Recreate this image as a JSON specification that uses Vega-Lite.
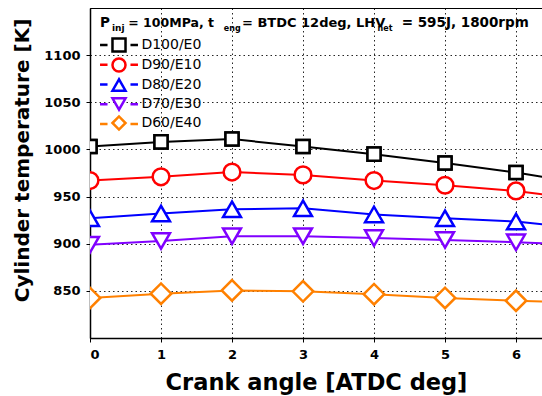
{
  "$schema": "https://vega.github.io/schema/vega-lite/v6.json",
  "width": 452,
  "height": 330,
  "autosize": {"type": "none"},
  "padding": {"left": 90, "top": 8, "right": 0, "bottom": 58},
  "background": "white",
  "config": {
    "font": "DejaVu Sans",
    "view": {"stroke": "#000", "strokeWidth": 1},
    "axis": {
      "labelFont": "DejaVu Sans", "labelFontWeight": "bold", "labelFontSize": 13, "labelColor": "#000",
      "titleFont": "DejaVu Sans", "titleFontWeight": "bold", "titleColor": "#000",
      "domainColor": "#000", "domainWidth": 1.5, "tickColor": "#000", "tickSize": 4, "tickWidth": 1,
      "gridColor": "#000", "gridDash": [1.5, 3], "gridWidth": 1, "gridOpacity": 0.85
    },
    "legend": {"labelFont": "DejaVu Sans", "padding": 0}
  },
  "datasets": {
    "temps": [
      {"series": "D100/E0", "angle": 0, "temp": 1003}, {"series": "D100/E0", "angle": 1, "temp": 1008}, {"series": "D100/E0", "angle": 2, "temp": 1011}, {"series": "D100/E0", "angle": 3, "temp": 1003}, {"series": "D100/E0", "angle": 4, "temp": 995}, {"series": "D100/E0", "angle": 5, "temp": 985.5}, {"series": "D100/E0", "angle": 6, "temp": 975.5}, {"series": "D100/E0", "angle": 7, "temp": 963},
      {"series": "D90/E10", "angle": 0, "temp": 967}, {"series": "D90/E10", "angle": 1, "temp": 971}, {"series": "D90/E10", "angle": 2, "temp": 976}, {"series": "D90/E10", "angle": 3, "temp": 973}, {"series": "D90/E10", "angle": 4, "temp": 967}, {"series": "D90/E10", "angle": 5, "temp": 962}, {"series": "D90/E10", "angle": 6, "temp": 956}, {"series": "D90/E10", "angle": 7, "temp": 946.5},
      {"series": "D80/E20", "angle": 0, "temp": 927}, {"series": "D80/E20", "angle": 1, "temp": 932}, {"series": "D80/E20", "angle": 2, "temp": 936.5}, {"series": "D80/E20", "angle": 3, "temp": 937.5}, {"series": "D80/E20", "angle": 4, "temp": 931}, {"series": "D80/E20", "angle": 5, "temp": 927}, {"series": "D80/E20", "angle": 6, "temp": 923.5}, {"series": "D80/E20", "angle": 7, "temp": 916},
      {"series": "D70/E30", "angle": 0, "temp": 899}, {"series": "D70/E30", "angle": 1, "temp": 903}, {"series": "D70/E30", "angle": 2, "temp": 908}, {"series": "D70/E30", "angle": 3, "temp": 908}, {"series": "D70/E30", "angle": 4, "temp": 906}, {"series": "D70/E30", "angle": 5, "temp": 904}, {"series": "D70/E30", "angle": 6, "temp": 901.5}, {"series": "D70/E30", "angle": 7, "temp": 898.5},
      {"series": "D60/E40", "angle": 0, "temp": 842.5}, {"series": "D60/E40", "angle": 1, "temp": 847}, {"series": "D60/E40", "angle": 2, "temp": 850.5}, {"series": "D60/E40", "angle": 3, "temp": 849.5}, {"series": "D60/E40", "angle": 4, "temp": 846.5}, {"series": "D60/E40", "angle": 5, "temp": 842.5}, {"series": "D60/E40", "angle": 6, "temp": 839.5}, {"series": "D60/E40", "angle": 7, "temp": 837}
    ]
  },
  "layer": [
    {
      "data": {"name": "temps"},
      "mark": {"type": "line", "strokeWidth": 2, "clip": true},
      "encoding": {
        "x": {"field": "angle", "type": "quantitative", "scale": {"domain": [0, 6.366], "nice": false, "zero": false},
              "axis": {"title": "Crank angle [ATDC deg]", "titleFontSize": 22.5, "values": [0, 1, 2, 3, 4, 5, 6], "format": "d", "labelPadding": 6, "titlePadding": 10}},
        "y": {"field": "temp", "type": "quantitative", "scale": {"domain": [800, 1150], "nice": false, "zero": false},
              "axis": {"title": "Cylinder temperature [K]", "titleFontSize": 20, "titleY": 152, "values": [850, 900, 950, 1000, 1050, 1100], "format": "d", "labelPadding": 6, "titlePadding": 11}},
        "color": {"field": "series", "type": "nominal",
                  "scale": {"domain": ["D100/E0", "D90/E10", "D80/E20", "D70/E30", "D60/E40"], "range": ["#000000", "#ff0000", "#0000ff", "#8000ff", "#ff8000"]},
                  "legend": {"orient": "none", "legendX": 21, "legendY": 29, "title": null, "symbolType": "M-2.91,0H-1.76M1.76,0H2.91", "symbolSize": 170, "symbolFillColor": "transparent", "symbolStrokeWidth": 2.5, "labelExpr": "''", "labelFontSize": 14, "labelOffset": 14.4, "rowPadding": 4.75}}
      }
    },
    {
      "data": {"name": "temps"},
      "mark": {"type": "point", "filled": false, "fill": "white", "fillOpacity": 1, "strokeWidth": 2.5, "opacity": 1, "size": 170, "clip": true},
      "encoding": {
        "x": {"field": "angle", "type": "quantitative"},
        "y": {"field": "temp", "type": "quantitative"},
        "color": {"field": "series", "type": "nominal",
                  "legend": {"orient": "none", "legendX": 21, "legendY": 29, "title": null, "symbolFillColor": "white", "symbolStrokeWidth": 2.5, "symbolSize": 170, "labelFontSize": 14, "labelColor": "#000", "labelOffset": 14.4, "rowPadding": -7.75}},
        "shape": {"field": "series", "type": "nominal",
                  "scale": {"domain": ["D100/E0", "D90/E10", "D80/E20", "D70/E30", "D60/E40"], "range": ["square", "circle", "triangle-up", "triangle-down", "diamond"]}}
      }
    },
    {
      "data": {"name": "temps"},
      "mark": {"type": "point", "filled": false, "fill": "white", "fillOpacity": 1, "strokeWidth": 2.5, "opacity": 1, "clip": true},
      "encoding": {
        "x": {"field": "angle", "type": "quantitative"},
        "y": {"field": "temp", "type": "quantitative"},
        "color": {"field": "series", "type": "nominal", "legend": null},
        "shape": {"field": "series", "type": "nominal", "legend": null},
        "size": {"condition": [
                   {"test": "datum.series === 'D100/E0'", "value": 170},
                   {"test": "datum.series === 'D90/E10'", "value": 280},
                   {"test": "datum.series === 'D60/E40'", "value": 420}],
                 "value": 320}
      }
    },
    {"data": {"values": [{}]}, "mark": {"type": "text", "align": "left", "baseline": "alphabetic", "fontWeight": "bold", "fontSize": 13.5, "color": "#000"},
     "encoding": {"x": {"datum": 0.141, "type": "quantitative"}, "y": {"datum": 1129.5, "type": "quantitative"}, "text": {"value": "P"}}},
    {"data": {"values": [{}]}, "mark": {"type": "text", "align": "left", "baseline": "alphabetic", "fontWeight": "bold", "fontSize": 9, "color": "#000"},
     "encoding": {"x": {"datum": 0.31, "type": "quantitative"}, "y": {"datum": 1126.1, "type": "quantitative"}, "text": {"value": "inj"}}},
    {"data": {"values": [{}]}, "mark": {"type": "text", "align": "left", "baseline": "alphabetic", "fontWeight": "bold", "fontSize": 12.5, "color": "#000"},
     "encoding": {"x": {"datum": 0.539, "type": "quantitative"}, "y": {"datum": 1129.5, "type": "quantitative"}, "text": {"value": "= 100MPa, t"}}},
    {"data": {"values": [{}]}, "mark": {"type": "text", "align": "left", "baseline": "alphabetic", "fontWeight": "bold", "fontSize": 8, "color": "#000"},
     "encoding": {"x": {"datum": 1.885, "type": "quantitative"}, "y": {"datum": 1126.1, "type": "quantitative"}, "text": {"value": "eng"}}},
    {"data": {"values": [{}]}, "mark": {"type": "text", "align": "left", "baseline": "alphabetic", "fontWeight": "bold", "fontSize": 13, "color": "#000"},
     "encoding": {"x": {"datum": 2.141, "type": "quantitative"}, "y": {"datum": 1129.5, "type": "quantitative"}, "text": {"value": "= BTDC 12deg, LHV"}}},
    {"data": {"values": [{}]}, "mark": {"type": "text", "align": "left", "baseline": "alphabetic", "fontWeight": "bold", "fontSize": 8, "color": "#000"},
     "encoding": {"x": {"datum": 4.05, "type": "quantitative"}, "y": {"datum": 1126.1, "type": "quantitative"}, "text": {"value": "net"}}},
    {"data": {"values": [{}]}, "mark": {"type": "text", "align": "left", "baseline": "alphabetic", "fontWeight": "bold", "fontSize": 13.5, "color": "#000"},
     "encoding": {"x": {"datum": 4.39, "type": "quantitative"}, "y": {"datum": 1129.5, "type": "quantitative"}, "text": {"value": "= 595J, 1800rpm"}}}
  ],
  "resolve": {"legend": {"color": "independent", "shape": "independent"}}
}
